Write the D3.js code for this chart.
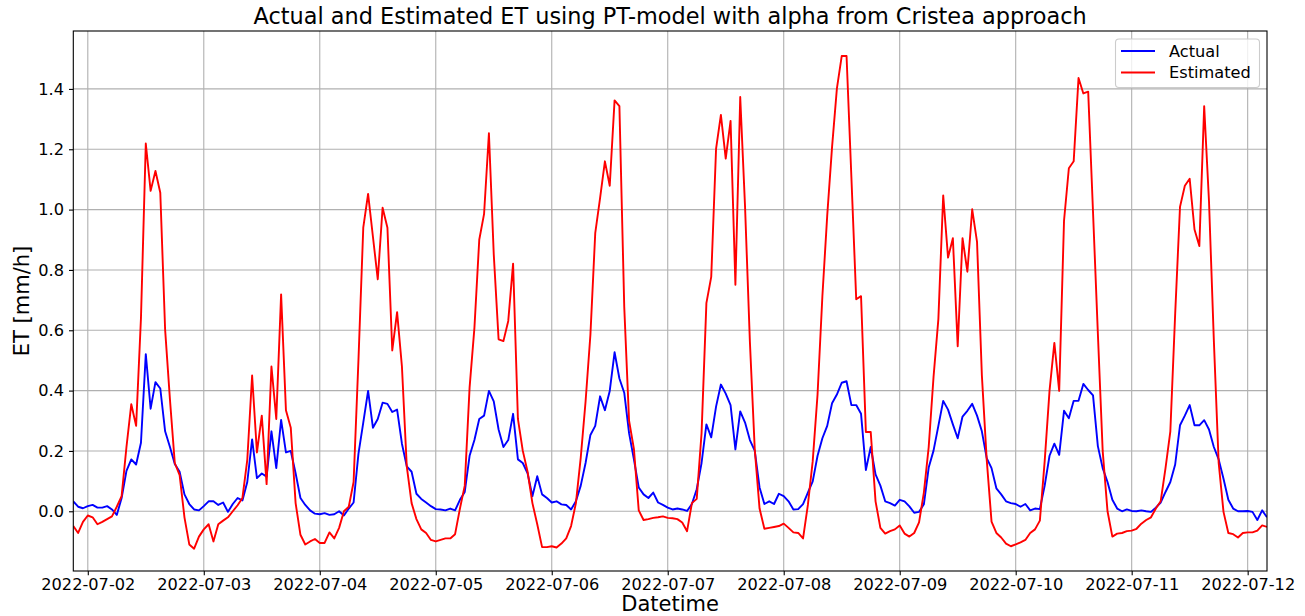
<!DOCTYPE html>
<html>
<head>
<meta charset="utf-8">
<script src="https://d3js.org/d3.v7.min.js"></script>
<style>
body { margin: 0; background: #fff; }
svg text { font-family: "DejaVu Sans", sans-serif; fill: #000; }
</style>
</head>
<body>
<svg id="chart" width="1305" height="616"></svg>
<script>
// hourly series, first value at 2022-07-01 21:00
var startTime = "2022-07-01 21:00";
var actual = [
  0.033, 0.015, 0.01, 0.017, 0.021, 0.012, 0.012, 0.017, 0.006, -0.012,
  0.044, 0.134, 0.172, 0.155, 0.227, 0.521, 0.34, 0.428, 0.407, 0.265,
  0.213, 0.157, 0.131, 0.056, 0.024, 0.006, 0.003, 0.017, 0.033, 0.033,
  0.021, 0.029, -0.002, 0.024, 0.044, 0.036, 0.097, 0.238, 0.11, 0.125,
  0.115, 0.265, 0.143, 0.303, 0.195, 0.2, 0.126, 0.044, 0.021, 0.003,
  -0.008, -0.01, -0.006, -0.012, -0.01, 0.0, -0.014, 0.009, 0.029, 0.19,
  0.294, 0.399, 0.277, 0.306, 0.36, 0.356, 0.329, 0.337, 0.224, 0.149,
  0.131, 0.058, 0.041, 0.029, 0.017, 0.007, 0.006, 0.003, 0.009, 0.003,
  0.038, 0.064, 0.184, 0.236, 0.306, 0.317, 0.399, 0.364, 0.271, 0.213,
  0.236, 0.323, 0.172, 0.16, 0.126, 0.05, 0.116, 0.056, 0.044, 0.029,
  0.033, 0.023, 0.021, 0.006, 0.033, 0.085, 0.16, 0.253, 0.283, 0.381,
  0.335, 0.399, 0.527, 0.44, 0.393, 0.259, 0.172, 0.079, 0.056, 0.044,
  0.062, 0.029, 0.021, 0.012, 0.006, 0.009, 0.006, 0.001, 0.024, 0.073,
  0.16, 0.288, 0.245, 0.347, 0.42, 0.39, 0.352, 0.205, 0.331, 0.294,
  0.236, 0.201, 0.079, 0.024, 0.033, 0.024, 0.058, 0.05, 0.033, 0.006,
  0.007, 0.024, 0.062, 0.099, 0.184, 0.242, 0.283, 0.358, 0.387, 0.426,
  0.431, 0.352, 0.352, 0.323, 0.137, 0.213, 0.122, 0.085, 0.033, 0.027,
  0.019, 0.038, 0.033, 0.016, -0.005, -0.002, 0.023, 0.145, 0.201, 0.283,
  0.366, 0.337, 0.288, 0.242, 0.314, 0.333, 0.356, 0.317, 0.265, 0.176,
  0.143, 0.076, 0.056, 0.033, 0.027, 0.024, 0.015, 0.024, 0.003, 0.009,
  0.007, 0.085, 0.184, 0.224, 0.187, 0.333, 0.308, 0.366, 0.366, 0.422,
  0.402, 0.384, 0.216, 0.143, 0.097, 0.038, 0.009, 0.0, 0.006, 0.001,
  0.0, 0.003, 0.0, -0.002, 0.012, 0.029, 0.064, 0.097, 0.155, 0.285,
  0.317, 0.352, 0.285, 0.285, 0.302, 0.271, 0.213, 0.172, 0.108, 0.038,
  0.009, 0.0, 0.0, 0.001, -0.002, -0.029, 0.003, -0.02
];
var estimated = [
  -0.049, -0.072, -0.035, -0.014, -0.02, -0.043, -0.035, -0.026, -0.017, 0.015,
  0.05, 0.213, 0.355, 0.283, 0.64, 1.219, 1.062, 1.128, 1.056, 0.602,
  0.37, 0.16, 0.12, -0.02, -0.11, -0.124, -0.084, -0.06, -0.043, -0.1,
  -0.043, -0.031, -0.02, 0.0, 0.02, 0.044, 0.17, 0.45, 0.195, 0.317,
  0.09, 0.48, 0.306, 0.719, 0.335, 0.277, 0.027, -0.078, -0.11, -0.1,
  -0.092, -0.105, -0.105, -0.07, -0.09, -0.055, 0.0, 0.015, 0.097, 0.5,
  0.94, 1.052, 0.91, 0.769, 1.006, 0.94, 0.533, 0.66, 0.48, 0.149,
  0.027, -0.026, -0.06, -0.072, -0.095, -0.1, -0.095, -0.09, -0.09, -0.076,
  0.009, 0.085, 0.41, 0.608, 0.9, 0.986, 1.253, 0.852, 0.57, 0.564,
  0.631, 0.821, 0.306, 0.201, 0.131, 0.027, -0.043, -0.119, -0.119, -0.116,
  -0.12, -0.107, -0.09, -0.049, 0.027, 0.178, 0.364, 0.585, 0.922, 1.038,
  1.16, 1.079, 1.362, 1.343, 0.678, 0.3, 0.207, 0.003, -0.029, -0.026,
  -0.022, -0.02, -0.017, -0.022, -0.023, -0.026, -0.037, -0.066, 0.027, 0.041,
  0.259, 0.69, 0.777, 1.201, 1.314, 1.169, 1.294, 0.751, 1.373, 1.009,
  0.562, 0.207, 0.009, -0.058, -0.055, -0.052, -0.049, -0.041, -0.055, -0.07,
  -0.072, -0.09, 0.021, 0.166, 0.387, 0.713, 0.98, 1.207, 1.401, 1.509,
  1.509, 1.108, 0.703, 0.713, 0.263, 0.263, 0.033, -0.055, -0.074, -0.066,
  -0.06, -0.047, -0.074, -0.084, -0.072, -0.037, 0.062, 0.213, 0.445, 0.637,
  1.047, 0.841, 0.905, 0.547, 0.905, 0.794, 1.001, 0.893, 0.451, 0.172,
  -0.034, -0.072, -0.087, -0.107, -0.116, -0.11, -0.103, -0.095, -0.072, -0.06,
  -0.031, 0.166, 0.399, 0.558, 0.399, 0.963, 1.137, 1.16, 1.436, 1.385,
  1.391, 0.992, 0.59, 0.2, 0.0, -0.084, -0.074, -0.072, -0.066, -0.064,
  -0.058, -0.041, -0.029, -0.02, 0.009, 0.033, 0.143, 0.265, 0.655, 1.009,
  1.079, 1.102, 0.934, 0.879, 1.343, 1.027, 0.567, 0.16, -0.002, -0.072,
  -0.076, -0.087, -0.072, -0.07, -0.07, -0.064, -0.047, -0.052
];
var yTicks = [0.0, 0.2, 0.4, 0.6, 0.8, 1.0, 1.2, 1.4];
var xTickLabels = ["2022-07-02", "2022-07-03", "2022-07-04", "2022-07-05", "2022-07-06",
  "2022-07-07", "2022-07-08", "2022-07-09", "2022-07-10", "2022-07-11", "2022-07-12"];
var seriesNames = ["Actual", "Estimated"];
var seriesColors = ["blue", "red"];

var plotLeft = 73.3, plotRight = 1267, plotTop = 31, plotBottom = 571;
var tickFont = 16.2, labelFont = 21, titleFont = 22.4;

var parseTime = d3.timeParse("%Y-%m-%d %H:%M");
var parseDay = d3.timeParse("%Y-%m-%d");
var t0 = parseTime(startTime);
var times = actual.map(function(d, i) { return d3.timeHour.offset(t0, i); });

var x = d3.scaleTime().domain(d3.extent(times)).range([plotLeft, plotRight]);
var y = d3.scaleLinear().domain([-0.198, 1.592]).range([plotBottom, plotTop]);

var svg = d3.select("#chart");

// grid
var tickDates = xTickLabels.map(parseDay);
svg.append("g").selectAll("line").data(tickDates).enter().append("line")
  .attr("x1", function(d) { return x(d); }).attr("x2", function(d) { return x(d); })
  .attr("y1", plotTop).attr("y2", plotBottom)
  .attr("stroke", "#b0b0b0").attr("stroke-width", 1.1);
svg.append("g").selectAll("line").data(yTicks).enter().append("line")
  .attr("x1", plotLeft).attr("x2", plotRight)
  .attr("y1", function(d) { return y(d); }).attr("y2", function(d) { return y(d); })
  .attr("stroke", "#b0b0b0").attr("stroke-width", 1.1);

// lines
var series = [actual, estimated];
var line = d3.line()
  .x(function(d, i) { return x(times[i]); })
  .y(function(d) { return y(d); });
svg.append("defs").append("clipPath").attr("id", "clip")
  .append("rect").attr("x", plotLeft).attr("y", plotTop)
  .attr("width", plotRight - plotLeft).attr("height", plotBottom - plotTop);
series.forEach(function(s, k) {
  svg.append("path").datum(s)
    .attr("clip-path", "url(#clip)")
    .attr("fill", "none")
    .attr("stroke", seriesColors[k])
    .attr("stroke-width", 1.9)
    .attr("stroke-linejoin", "round")
    .attr("d", line);
});

// axes
var xAxis = svg.append("g")
  .attr("transform", "translate(0," + plotBottom + ")")
  .call(d3.axisBottom(x).tickValues(tickDates).tickFormat(d3.timeFormat("%Y-%m-%d"))
    .tickSize(4.3).tickSizeOuter(0).tickPadding(2.8));
xAxis.selectAll("text").style("font-size", tickFont + "px");
var yAxis = svg.append("g")
  .attr("transform", "translate(" + plotLeft + ",0)")
  .call(d3.axisLeft(y).tickValues(yTicks).tickFormat(d3.format(".1f"))
    .tickSize(4.3).tickSizeOuter(0).tickPadding(5));
yAxis.selectAll("text").style("font-size", tickFont + "px");
svg.selectAll(".domain").remove();
svg.selectAll(".tick line").attr("stroke", "#000").attr("stroke-width", 1.1);

// frame
svg.append("rect").attr("x", plotLeft).attr("y", plotTop)
  .attr("width", plotRight - plotLeft).attr("height", plotBottom - plotTop)
  .attr("fill", "none").attr("stroke", "#000").attr("stroke-width", 1.1);

// labels
svg.append("text").attr("x", (plotLeft + plotRight) / 2).attr("y", 24)
  .attr("text-anchor", "middle").style("font-size", titleFont + "px")
  .text("Actual and Estimated ET using PT-model with alpha from Cristea approach");
svg.append("text").attr("x", (plotLeft + plotRight) / 2).attr("y", 611)
  .attr("text-anchor", "middle").style("font-size", labelFont + "px")
  .text("Datetime");
svg.append("text")
  .attr("transform", "translate(28.5," + (plotTop + plotBottom) / 2 + ") rotate(-90)")
  .attr("text-anchor", "middle").style("font-size", labelFont + "px")
  .text("ET [mm/h]");

// legend
var lg = svg.append("g");
lg.append("rect").attr("x", 1115.5).attr("y", 39).attr("width", 144).attr("height", 48.5)
  .attr("rx", 3.5).attr("fill", "#fff").attr("fill-opacity", 0.8)
  .attr("stroke", "#cccccc").attr("stroke-width", 1.1);
seriesNames.forEach(function(name, k) {
  var ly = 51 + k * 21.5;
  lg.append("line").attr("x1", 1121).attr("x2", 1155).attr("y1", ly).attr("y2", ly)
    .attr("stroke", seriesColors[k]).attr("stroke-width", 1.9);
  lg.append("text").attr("x", 1169).attr("y", ly + 5.8)
    .style("font-size", tickFont + "px").text(name);
});
</script>
</body>
</html>
